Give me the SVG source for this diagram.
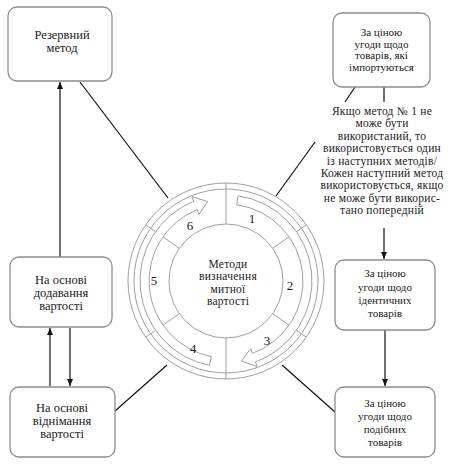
<svg xmlns="http://www.w3.org/2000/svg" width="453" height="466" viewBox="0 0 453 466">
<defs>
<style>
.box{fill:#fff;stroke:#8c8c8c;stroke-width:1.3}
.t{font-family:"Liberation Serif","Times New Roman",serif;fill:#1a1a1a;text-anchor:middle}
.l{font-size:12.5px}
.r{font-size:11px}
.m{font-size:11.5px;letter-spacing:0.25px}
.ring{fill:none;stroke:#a0a0a0;stroke-width:1}
.band{fill:#fff;stroke:#a0a0a0;stroke-width:1}
.num{font-family:"Liberation Serif","Times New Roman",serif;font-size:13px;fill:#1a1a1a;text-anchor:middle}
.c{stroke:#111;stroke-width:1.2;fill:none}
</style>
<marker id="ah" markerWidth="8" markerHeight="8" refX="7" refY="4" orient="auto" markerUnits="userSpaceOnUse">
<path d="M0,1 L7,4 L0,7 Z" fill="#111"/>
</marker>
</defs>
<rect width="453" height="466" fill="#fff"/>

<g id="connectors">
<line class="c" x1="80" y1="82" x2="168" y2="198"/>
<line class="c" x1="276" y1="196" x2="315" y2="142"/>
<line class="c" x1="355" y1="87" x2="345" y2="102"/>
<line class="c" x1="384" y1="87" x2="384" y2="102"/>
<line class="c" x1="384" y1="228" x2="384" y2="259" marker-end="url(#ah)"/>
<line class="c" x1="385" y1="330" x2="385" y2="386" marker-end="url(#ah)"/>
<line class="c" x1="282" y1="365" x2="335" y2="412"/>
<line class="c" x1="115" y1="411" x2="167" y2="365"/>
<line class="c" x1="60" y1="257" x2="60" y2="82" marker-end="url(#ah)"/>
<line class="c" x1="50" y1="386" x2="50" y2="328" marker-end="url(#ah)"/>
<line class="c" x1="70" y1="328" x2="70" y2="386" marker-end="url(#ah)"/>
</g>

<g id="center" font-family="Liberation Serif, Times New Roman, serif">
<circle class="ring" cx="226" cy="281" r="98" fill="#fff"/>
<circle class="ring" cx="226" cy="281" r="92"/>
<circle class="ring" cx="226" cy="281" r="57"/>
<g class="ring">
<line x1="226" y1="224" x2="226" y2="183"/>
<line x1="272.69" y1="248.30" x2="306.28" y2="224.79"/>
<line x1="272.69" y1="313.70" x2="306.28" y2="337.21"/>
<line x1="226" y1="338" x2="226" y2="379"/>
<line x1="179.31" y1="313.70" x2="145.72" y2="337.21"/>
<line x1="179.31" y1="248.30" x2="145.72" y2="224.79"/>
</g>
<path class="band" d="M237.97 195.84 A86 86 0 0 1 255.41 361.81 L257.12 366.51 L241.55 361.00 L250.62 348.66 L252.33 353.36 A77 77 0 0 0 236.72 204.75 Z"/>
<path class="band" d="M209.59 365.42 A86 86 0 0 1 193.78 201.26 L191.91 196.63 L207.66 201.59 L199.03 214.24 L197.16 209.61 A77 77 0 0 0 211.31 356.58 Z"/>
<text class="num" x="252" y="222.5">1</text>
<text class="num" x="290" y="289.5">2</text>
<text class="num" x="267" y="344.5">3</text>
<text class="num" x="193" y="352.5">4</text>
<text class="num" x="154" y="284.5">5</text>
<text class="num" x="190" y="229.5">6</text>
<text class="t m" x="228" y="268">Методи</text>
<text class="t m" x="228" y="280.3">визначення</text>
<text class="t m" x="228" y="292.6">митної</text>
<text class="t m" x="228" y="305">вартості</text>
</g>

<g id="reserve" font-family="Liberation Serif, Times New Roman, serif">
<rect class="box" x="8" y="7" width="104" height="74" rx="9"/>
<text class="t l" x="62" y="39">Резервний</text>
<text class="t l" x="62" y="52">метод</text>
</g>

<g id="import" font-family="Liberation Serif, Times New Roman, serif">
<rect class="box" x="333" y="13" width="97" height="74" rx="9"/>
<text class="t r" x="381.5" y="36">За ціною</text>
<text class="t r" x="381.5" y="47.5">угоди щодо</text>
<text class="t r" x="381.5" y="59">товарів, які</text>
<text class="t r" x="381.5" y="71">імпортуються</text>
</g>

<g id="note" font-family="Liberation Serif, Times New Roman, serif">
<text class="t m" x="382" y="115">Якщо метод № 1 не</text>
<text class="t m" x="382" y="127.4">може бути</text>
<text class="t m" x="382" y="139.8">використаний, то</text>
<text class="t m" x="382" y="152.2">використовується один</text>
<text class="t m" x="382" y="164.6">із наступних методів/</text>
<text class="t m" x="382" y="177">Кожен наступний метод</text>
<text class="t m" x="382" y="189.4">використовується, якщо</text>
<text class="t m" x="382" y="201.8">не може бути викорис-</text>
<text class="t m" x="382" y="214.2">тано попередній</text>
</g>

<g id="identical" font-family="Liberation Serif, Times New Roman, serif">
<rect class="box" x="335" y="260" width="100" height="70" rx="9"/>
<text class="t r" x="385" y="277">За ціною</text>
<text class="t r" x="385" y="290.5">угоди щодо</text>
<text class="t r" x="385" y="304">ідентичних</text>
<text class="t r" x="385" y="317">товарів</text>
</g>

<g id="similar" font-family="Liberation Serif, Times New Roman, serif">
<rect class="box" x="335" y="387" width="100" height="70" rx="9"/>
<text class="t r" x="385" y="407">За ціною</text>
<text class="t r" x="385" y="420">угоди щодо</text>
<text class="t r" x="385" y="433">подібних</text>
<text class="t r" x="385" y="446">товарів</text>
</g>

<g id="addition" font-family="Liberation Serif, Times New Roman, serif">
<rect class="box" x="10" y="257" width="102" height="70" rx="9"/>
<text class="t l" x="61" y="284">На основі</text>
<text class="t l" x="61" y="297">додавання</text>
<text class="t l" x="61" y="309.5">вартості</text>
</g>

<g id="subtraction" font-family="Liberation Serif, Times New Roman, serif">
<rect class="box" x="10" y="387" width="105" height="70" rx="9"/>
<text class="t l" x="62" y="412">На основі</text>
<text class="t l" x="62" y="425">віднімання</text>
<text class="t l" x="62" y="438">вартості</text>
</g>
</svg>
